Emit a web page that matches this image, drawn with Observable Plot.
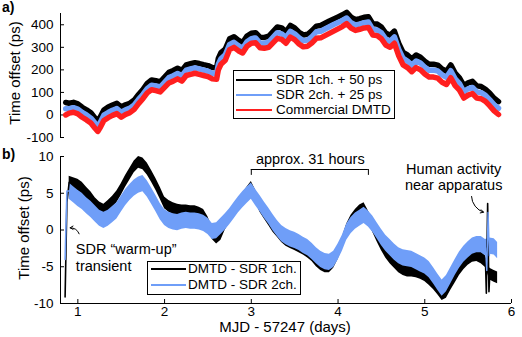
<!DOCTYPE html>
<html><head><meta charset="utf-8">
<script src="https://cdn.jsdelivr.net/npm/d3@7"></script>
<script src="https://cdn.jsdelivr.net/npm/@observablehq/plot@0.6"></script>
<style>
html,body{margin:0;padding:0;background:#fff;}
#wrap{position:relative;width:522px;height:337px;overflow:hidden;font-family:"Liberation Sans",Arial,sans-serif;color:#000;background:#fff;}
#wrap svg{position:absolute;left:0;overflow:visible;}
.t{position:absolute;white-space:nowrap;line-height:16px;}
.rot{transform:translate(-50%,-50%) rotate(-90deg);font-size:15px;}
.legend{position:absolute;background:#fff;border:1px solid #000;box-sizing:border-box;font-size:13.5px;}
.legend .row{position:absolute;left:0;height:16px;line-height:16px;white-space:nowrap;}
.legend .sw{position:absolute;height:2px;top:7px;}
.legend .lt{position:absolute;top:0;}
</style></head>
<body><div id="wrap"></div>
<script>
// ---------- Panel a) data (ps) ----------
const topDays = [0.86,0.90,0.95,1.00,1.05,1.10,1.15,1.20,1.23,1.26,1.30,1.35,1.40,1.45,1.50,1.55,1.60,1.65,1.70,1.75,1.80,1.85,1.90,1.95,2.00,2.05,2.10,2.15,2.20,2.25,2.30,2.35,2.40,2.45,2.50,2.55,2.60,2.62,2.65,2.70,2.75,2.80,2.85,2.90,2.95,3.00,3.05,3.10,3.15,3.20,3.25,3.30,3.35,3.40,3.45,3.50,3.55,3.60,3.65,3.70,3.75,3.80,3.85,3.90,3.95,4.00,4.05,4.10,4.15,4.20,4.25,4.30,4.35,4.40,4.45,4.50,4.55,4.60,4.65,4.70,4.75,4.80,4.85,4.90,4.95,5.00,5.05,5.10,5.15,5.20,5.25,5.30,5.35,5.40,5.45,5.50,5.55,5.60,5.65,5.70,5.75,5.80,5.85];
const topSdr1 = [55,52,56,49,34,23,10,-14,-26,-8,22,35,44,52,35,45,52,66,91,113,140,155,152,147,168,189,197,207,197,222,227,232,228,223,219,210,209,251,276,292,338,347,332,321,350,362,365,345,344,349,370,390,386,369,397,386,367,355,358,374,394,397,407,417,426,435,444,455,434,423,427,433,436,405,403,390,363,354,372,317,277,266,248,266,256,238,225,225,221,204,194,222,186,165,130,142,149,129,126,114,96,74,59];
const topSdr2 = [28,28,32,26,11,0,-14,-37,-50,-32,-1,11,21,28,12,23,30,44,69,91,117,132,129,124,145,166,174,184,174,199,204,209,204,199,194,185,183,225,249,267,313,322,307,296,325,338,341,319,318,323,344,365,360,344,371,360,342,329,332,348,369,371,381,391,401,410,419,430,409,399,403,409,412,379,377,364,337,327,346,291,251,239,221,239,230,212,198,199,195,178,167,196,160,139,103,116,122,102,99,87,67,45,30];
const topDmtd = [0,8,12,5,-10,-22,-36,-60,-73,-55,-25,-12,-2,6,-10,2,10,25,50,72,98,112,108,102,122,142,150,160,150,175,180,185,180,175,170,160,158,200,225,243,290,300,285,275,305,318,320,298,296,300,320,340,335,318,345,334,315,302,305,320,340,342,352,362,372,382,392,405,385,375,380,386,388,355,352,338,310,300,318,262,222,210,192,210,200,182,168,168,163,145,135,165,130,110,75,88,95,75,72,60,40,18,2];
const topNames = ["SDR 1ch. + 50 ps","SDR 2ch. + 25 ps","Commercial DMTD"];
const topTicks = [-100,0,100,200,300,400];

// ---------- Panel b) data (ps) ----------
const bDays = [0.90,0.95,1.00,1.05,1.10,1.15,1.20,1.25,1.30,1.35,1.40,1.45,1.50,1.55,1.60,1.65,1.70,1.75,1.80,1.85,1.90,1.95,2.00,2.05,2.10,2.15,2.20,2.25,2.30,2.35,2.40,2.45,2.50,2.55,2.60,2.65,2.70,2.75,2.80,2.85,2.90,2.95,3.00,3.05,3.10,3.15,3.20,3.25,3.30,3.35,3.40,3.45,3.50,3.55,3.60,3.65,3.70,3.75,3.80,3.85,3.90,3.95,4.00,4.05,4.10,4.15,4.20,4.25,4.30,4.35,4.40,4.45,4.50,4.55,4.60,4.65,4.70,4.75,4.80,4.85,4.90,4.95,5.00,5.05,5.10,5.15,5.20,5.25,5.30,5.35,5.40,5.45,5.50,5.55,5.60,5.65,5.70,5.75,5.80,5.84];
const bSdr1 = [6.5,6.3,6.1,5.7,5.0,4.4,3.6,3.0,2.7,3.2, 3.8,4.5,5.5,6.6,7.6,8.6,9.2,9.0,8.3,7.3, 6.2,5.0,3.7,3.2,2.9,2.7,2.6,2.6,2.5,2.5, 2.3,2.0,1.0,-0.5,-1.1,-0.6,0.8,1.8,2.6,3.4, 4.2,5.0,5.8,4.6,3.2,2.3,1.4,0.5,-0.2,-0.9, -1.4,-1.7,-2.0,-2.3,-2.6,-3.0,-3.5,-4.2,-4.7,-5.0, -5.0,-4.4,-3.2,-1.8,0.0,1.2,2.0,2.6,2.9,1.8, 0.5,-0.8,-2.0,-3.0,-3.8,-4.4,-5.0,-5.4,-5.6,-5.6, -5.7,-5.9,-6.2,-6.7,-7.3,-8.0,-8.8,-8.5,-7.4,-6.4, -5.4,-4.6,-4.0,-3.6,-3.5,-3.8,-4.3,-6.0,-6.3,-6.5];
const bSdr2 = [5.3,4.8,4.3,3.9,3.3,2.8,2.2,1.6,1.3,1.6, 2.1,2.6,3.5,4.4,5.1,5.7,6.1,6.3,5.6,4.6, 3.6,2.5,1.7,1.3,1.1,1.0,1.2,1.3,1.2,1.2, 1.1,0.9,0.5,-0.2,-0.1,0.5,1.1,1.8,2.6,3.4, 4.1,4.7,5.3,4.4,3.6,2.7,1.9,1.0,0.2,-0.5, -0.9,-1.2,-1.4,-1.7,-2.1,-2.4,-2.9,-3.5,-4.0,-4.3, -4.4,-4.0,-3.0,-1.8,-0.3,0.6,1.2,1.6,2.0,1.5, 0.8,-0.1,-1.0,-1.8,-2.4,-3.0,-3.5,-3.8,-3.9,-4.0, -4.3,-4.6,-4.9,-5.4,-6.2,-7.1,-7.9,-7.3,-6.2,-5.1, -4.1,-3.3,-2.7,-2.2,-2.0,-2.0,-2.4,-2.2,-2.3,-2.8];
// warm-up transient and human-activity spike (thin traces)
const warmDays = [0.853,0.874,0.90];
const warmSdr1 = [-9.1,3.8,6.5];
const warmSdr2 = [-4.0,5.3,5.3];
const spikeDays1 = [5.70,5.71,5.725,5.74,5.75];
const spikeSdr1 = [-4.3,-8.6,3.6,-8.4,-6.0];
const spikeDays2 = [5.70,5.715,5.73,5.745,5.75];
const spikeSdr2 = [-2.4,-5.5,2.4,-3.5,-2.2];
const bNames = ["DMTD - SDR 1ch.","DMTD - SDR 2ch."];
const bTicks = [-10,-5,0,5,10];
const xTicks = [1,2,3,4,5,6];
const bracketDays = [3.0,4.35];
const bracketLevel = 8.23;

// ---------- styles ----------
const cBlack = "#000000", cBlue = "#6f9ef8", cRed = "#ff1f1f";
const xDomain = [0.8, 6];
const noise1 = 0.8, noise2 = 1.1; // half-width of noise envelopes (ps)
const fmt = d => String(d);
const baseStyle = {fontFamily:'"Liberation Sans", Arial, sans-serif', fontSize:"13.5px", color:"#000", background:"transparent"};

const plotA = Plot.plot({
  width: 522, height: 140, marginLeft: 60, marginRight: 11, marginTop: 13, marginBottom: 3,
  style: baseStyle,
  x: {domain: xDomain, axis: null},
  y: {domain: [-100, 450], ticks: topTicks, tickSize: -4, tickPadding: 11, tickFormat: fmt, label: null},
  marks: [
    Plot.ruleX([xDomain[0]], {stroke: "#000"}),
    Plot.line(topDays, {x: topDays, y: topSdr1, stroke: cBlack, strokeWidth: 5.5}),
    Plot.line(topDays, {x: topDays, y: topSdr2, stroke: cBlue, strokeWidth: 5.5}),
    Plot.line(topDays, {x: topDays, y: topDmtd, stroke: cRed, strokeWidth: 5.5})
  ]
});
plotA.style.top = "0px";

const plotB = Plot.plot({
  width: 522, height: 197, marginLeft: 60, marginRight: 11, marginTop: 16, marginBottom: 34,
  style: baseStyle,
  x: {domain: xDomain, ticks: xTicks, tickSize: -4, tickPadding: 7, tickFormat: fmt, label: null},
  y: {domain: [-10, 10], ticks: bTicks, tickSize: -4, tickPadding: 11, tickFormat: fmt, label: null},
  marks: [
    Plot.ruleX([xDomain[0]], {stroke: "#000"}),
    Plot.ruleY([-10], {stroke: "#000"}),
    Plot.areaY(bDays, {x: bDays, y1: bSdr1.map(v => v - noise1), y2: bSdr1.map(v => v + noise1), fill: cBlack}),
    Plot.areaY(bDays, {x: bDays, y1: bSdr2.map(v => v - noise2), y2: bSdr2.map(v => v + noise2), fill: cBlue}),
    Plot.line(warmDays, {x: warmDays, y: warmSdr1, stroke: cBlack, strokeWidth: 1.6}),
    Plot.line(warmDays, {x: warmDays, y: warmSdr2, stroke: cBlue, strokeWidth: 1.6}),
    Plot.line(spikeDays1, {x: spikeDays1, y: spikeSdr1, stroke: cBlack, strokeWidth: 1.6}),
    Plot.line(spikeDays2, {x: spikeDays2, y: spikeSdr2, stroke: cBlue, strokeWidth: 1.4}),
    // bracket "approx. 31 hours"
    Plot.ruleY([{y: bracketLevel, x1: bracketDays[0], x2: bracketDays[1]}], {y: "y", x1: "x1", x2: "x2", stroke: "#000", strokeWidth: 1}),
    Plot.ruleX(bracketDays.map(d => ({x: d, y1: bracketLevel, y2: bracketLevel - 0.8})), {x: "x", y1: "y1", y2: "y2", stroke: "#000", strokeWidth: 1}),
    Plot.text([{x: 3.68, y: 9.66, t: "approx. 31 hours"}], {x: "x", y: "y", text: "t", fontSize: 14.5, fill: "#000"}),
    Plot.text([{x: 5.333, y: 7.24, t: "Human activity\nnear apparatus"}], {x: "x", y: "y", text: "t", fontSize: 14.5, lineHeight: 1.15, fill: "#000"}),
    Plot.text([{x: 0.977, y: -3.74, t: "SDR \u201cwarm-up\u201d\ntransient"}], {x: "x", y: "y", text: "t", textAnchor: "start", fontSize: 14.5, lineHeight: 1.15, fill: "#000"}),
    Plot.arrow([{x1: 5.539, y1: 4.56, x2: 5.677, y2: 2.42}], {x1: "x1", y1: "y1", x2: "x2", y2: "y2", bend: -35, headLength: 5, strokeWidth: 1, stroke: "#000"}),
    Plot.arrow([{x1: 1.015, y1: -0.52, x2: 0.911, y2: 0.30}], {x1: "x1", y1: "y1", x2: "x2", y2: "y2", bend: -35, headLength: 5, strokeWidth: 1, stroke: "#000"})
  ]
});
plotB.style.top = "140px";

const wrap = document.getElementById("wrap");
wrap.appendChild(plotA);
wrap.appendChild(plotB);

function addText(txt, css, cls) {
  const d = document.createElement("div");
  d.className = cls || "t";
  d.textContent = txt;
  Object.assign(d.style, css);
  wrap.appendChild(d);
  return d;
}
addText("a)", {left: "2px", top: "-1px", fontWeight: "bold", fontSize: "14px"});
addText("b)", {left: "2px", top: "146px", fontWeight: "bold", fontSize: "14px"});
addText("Time offset (ps)", {left: "15px", top: "73px"}, "t rot");
addText("Time offset (ps)", {left: "24px", top: "228px"}, "t rot");
addText("MJD - 57247 (days)", {left: "285px", top: "320px", fontSize: "15px", lineHeight: "14px", transform: "translateX(-50%)"});

function legend(box, names, colors, rowTops, swLeft, swWidth, textLeft) {
  const L = document.createElement("div");
  L.className = "legend";
  Object.assign(L.style, box);
  names.forEach((n, i) => {
    const r = document.createElement("div");
    r.className = "row";
    r.style.top = rowTops[i] + "px";
    r.style.width = "100%";
    const s = document.createElement("div");
    s.className = "sw";
    Object.assign(s.style, {left: swLeft + "px", width: swWidth + "px", background: colors[i]});
    const t = document.createElement("div");
    t.className = "lt";
    t.style.left = textLeft + "px";
    t.textContent = n;
    r.appendChild(s); r.appendChild(t);
    L.appendChild(r);
  });
  wrap.appendChild(L);
}
legend({left: "233px", top: "70px", width: "162px", height: "49px"}, topNames, [cBlack, cBlue, cRed], [1, 16, 31], 2, 36, 42);
legend({left: "147px", top: "261px", width: "154px", height: "34px"}, bNames, [cBlack, cBlue], [-1, 15], 3, 35, 40);
</script>
</body></html>
